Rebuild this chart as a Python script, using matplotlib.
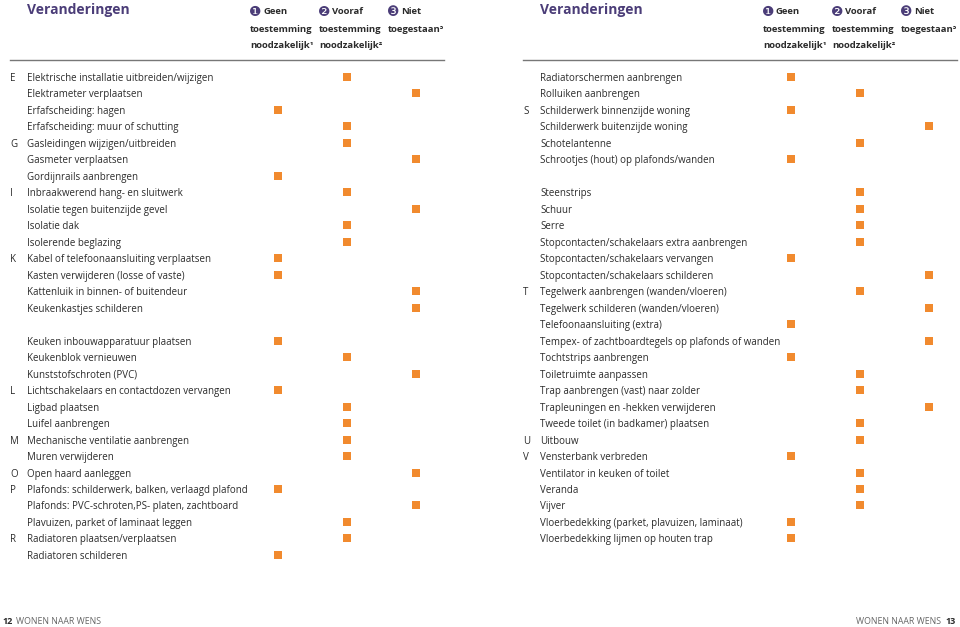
import matplotlib
matplotlib.use("Agg")
import matplotlib.pyplot as plt

plt.rcParams['font.family'] = ['Open Sans', 'DejaVu Sans']

# left page: (letter, label, column 1..3, 0 = blank row)
left_letters = ["E", "", "", "", "G", "", "", "I", "", "", "", "K", "", "", "", "",
                "", "", "", "L", "", "", "M", "", "O", "P", "", "", "R", ""]
left_labels = [
    "Elektrische installatie uitbreiden/wijzigen",
    "Elektrameter verplaatsen",
    "Erfafscheiding: hagen",
    "Erfafscheiding: muur of schutting",
    "Gasleidingen wijzigen/uitbreiden",
    "Gasmeter verplaatsen",
    "Gordijnrails aanbrengen",
    "Inbraakwerend hang- en sluitwerk",
    "Isolatie tegen buitenzijde gevel",
    "Isolatie dak",
    "Isolerende beglazing",
    "Kabel of telefoonaansluiting verplaatsen",
    "Kasten verwijderen (losse of vaste)",
    "Kattenluik in binnen- of buitendeur",
    "Keukenkastjes schilderen",
    "",
    "Keuken inbouwapparatuur plaatsen",
    "Keukenblok vernieuwen",
    "Kunststofschroten (PVC)",
    "Lichtschakelaars en contactdozen vervangen",
    "Ligbad plaatsen",
    "Luifel aanbrengen",
    "Mechanische ventilatie aanbrengen",
    "Muren verwijderen",
    "Open haard aanleggen",
    "Plafonds: schilderwerk, balken, verlaagd plafond",
    "Plafonds: PVC-schroten,PS- platen, zachtboard",
    "Plavuizen, parket of laminaat leggen",
    "Radiatoren plaatsen/verplaatsen",
    "Radiatoren schilderen",
]
left_cols = [2, 3, 1, 2, 2, 3, 1, 2, 3, 2, 2, 1, 1, 3, 3, 0,
             1, 2, 3, 1, 2, 2, 2, 2, 3, 1, 3, 2, 2, 1]

right_letters = ["", "", "S", "", "", "", "", "", "", "", "", "", "", "T", "",
                 "", "", "", "", "", "", "", "U", "V", "", "", "", "", ""]
right_labels = [
    "Radiatorschermen aanbrengen",
    "Rolluiken aanbrengen",
    "Schilderwerk binnenzijde woning",
    "Schilderwerk buitenzijde woning",
    "Schotelantenne",
    "Schrootjes (hout) op plafonds/wanden",
    "",
    "Steenstrips",
    "Schuur",
    "Serre",
    "Stopcontacten/schakelaars extra aanbrengen",
    "Stopcontacten/schakelaars vervangen",
    "Stopcontacten/schakelaars schilderen",
    "Tegelwerk aanbrengen (wanden/vloeren)",
    "Tegelwerk schilderen (wanden/vloeren)",
    "Telefoonaansluiting (extra)",
    "Tempex- of zachtboardtegels op plafonds of wanden",
    "Tochtstrips aanbrengen",
    "Toiletruimte aanpassen",
    "Trap aanbrengen (vast) naar zolder",
    "Trapleuningen en -hekken verwijderen",
    "Tweede toilet (in badkamer) plaatsen",
    "Uitbouw",
    "Vensterbank verbreden",
    "Ventilator in keuken of toilet",
    "Veranda",
    "Vijver",
    "Vloerbedekking (parket, plavuizen, laminaat)",
    "Vloerbedekking lijmen op houten trap",
]
right_cols = [1, 2, 1, 3, 2, 1, 0, 2, 2, 2, 2, 1, 3, 2, 3,
              1, 3, 1, 2, 2, 3, 2, 2, 1, 2, 2, 2, 1, 1]

headers = [["Geen", "toestemming", "noodzakelijk\u00b9"],
           ["Vooraf", "toestemming", "noodzakelijk\u00b2"],
           ["Niet", "toegestaan\u00b3"]]
bullets = ["\u2776", "\u2777", "\u2778"]

purple = "#4b3d78"
orange = "#f18a2e"
textc = "#2b2b2b"

fig = plt.figure(figsize=(9.6, 6.27), dpi=100)
ax = fig.add_axes([0, 0, 1, 1])
ax.set_xlim(0, 960)
ax.set_ylim(627, 0)
ax.axis("off")

row0, step = 77, 16.48
col_dx = [0, 69, 138]


def page(x0, letters, labels, cols):
    # x0 = left of the label column
    ax.text(x0, 10, "Veranderingen", color=purple, fontsize=10,
            fontweight="bold", va="center", ha="left")
    hx = x0 + 223
    for j, h in enumerate(headers):
        for k, line in enumerate(h):
            if k == 0:
                ax.text(hx + col_dx[j] - 1, 12, bullets[j], color=purple,
                        fontsize=10, va="center", ha="left",
                        family="DejaVu Sans")
                ax.text(hx + col_dx[j] + 13, 12, line, color=textc,
                        fontsize=6.8, fontweight="bold", va="center")
            else:
                ax.text(hx + col_dx[j], 12 + 17 * k, line, color=textc,
                        fontsize=6.8, fontweight="bold", va="center")
    ax.plot([x0 - 17, x0 + 417], [60, 60], color="#777777", lw=1)
    for i, (lt, lb, c) in enumerate(zip(letters, labels, cols)):
        y = row0 + i * step
        ax.text(x0 - 17, y + 1.5, lt, color=textc, fontsize=7, va="center")
        ax.text(x0, y + 1.5, lb, color=textc, fontsize=7, va="center")
        if c:
            ax.scatter(x0 + 251 + col_dx[c - 1], y, marker="s", s=27,
                       color=orange, linewidths=0)


page(27, left_letters, left_labels, left_cols)
page(540, right_letters, right_labels, right_cols)

ax.text(2, 622, "12", fontsize=6.5, fontweight="bold", color=textc, va="center")
ax.text(16, 622, "WONEN NAAR WENS", fontsize=6.3, color="#666666", va="center")
ax.text(956, 622, "13", fontsize=6.5, fontweight="bold", color=textc,
        va="center", ha="right")
ax.text(941, 622, "WONEN NAAR WENS", fontsize=6.3, color="#666666",
        va="center", ha="right")

fig.savefig("out.png", dpi=100, facecolor="white")
